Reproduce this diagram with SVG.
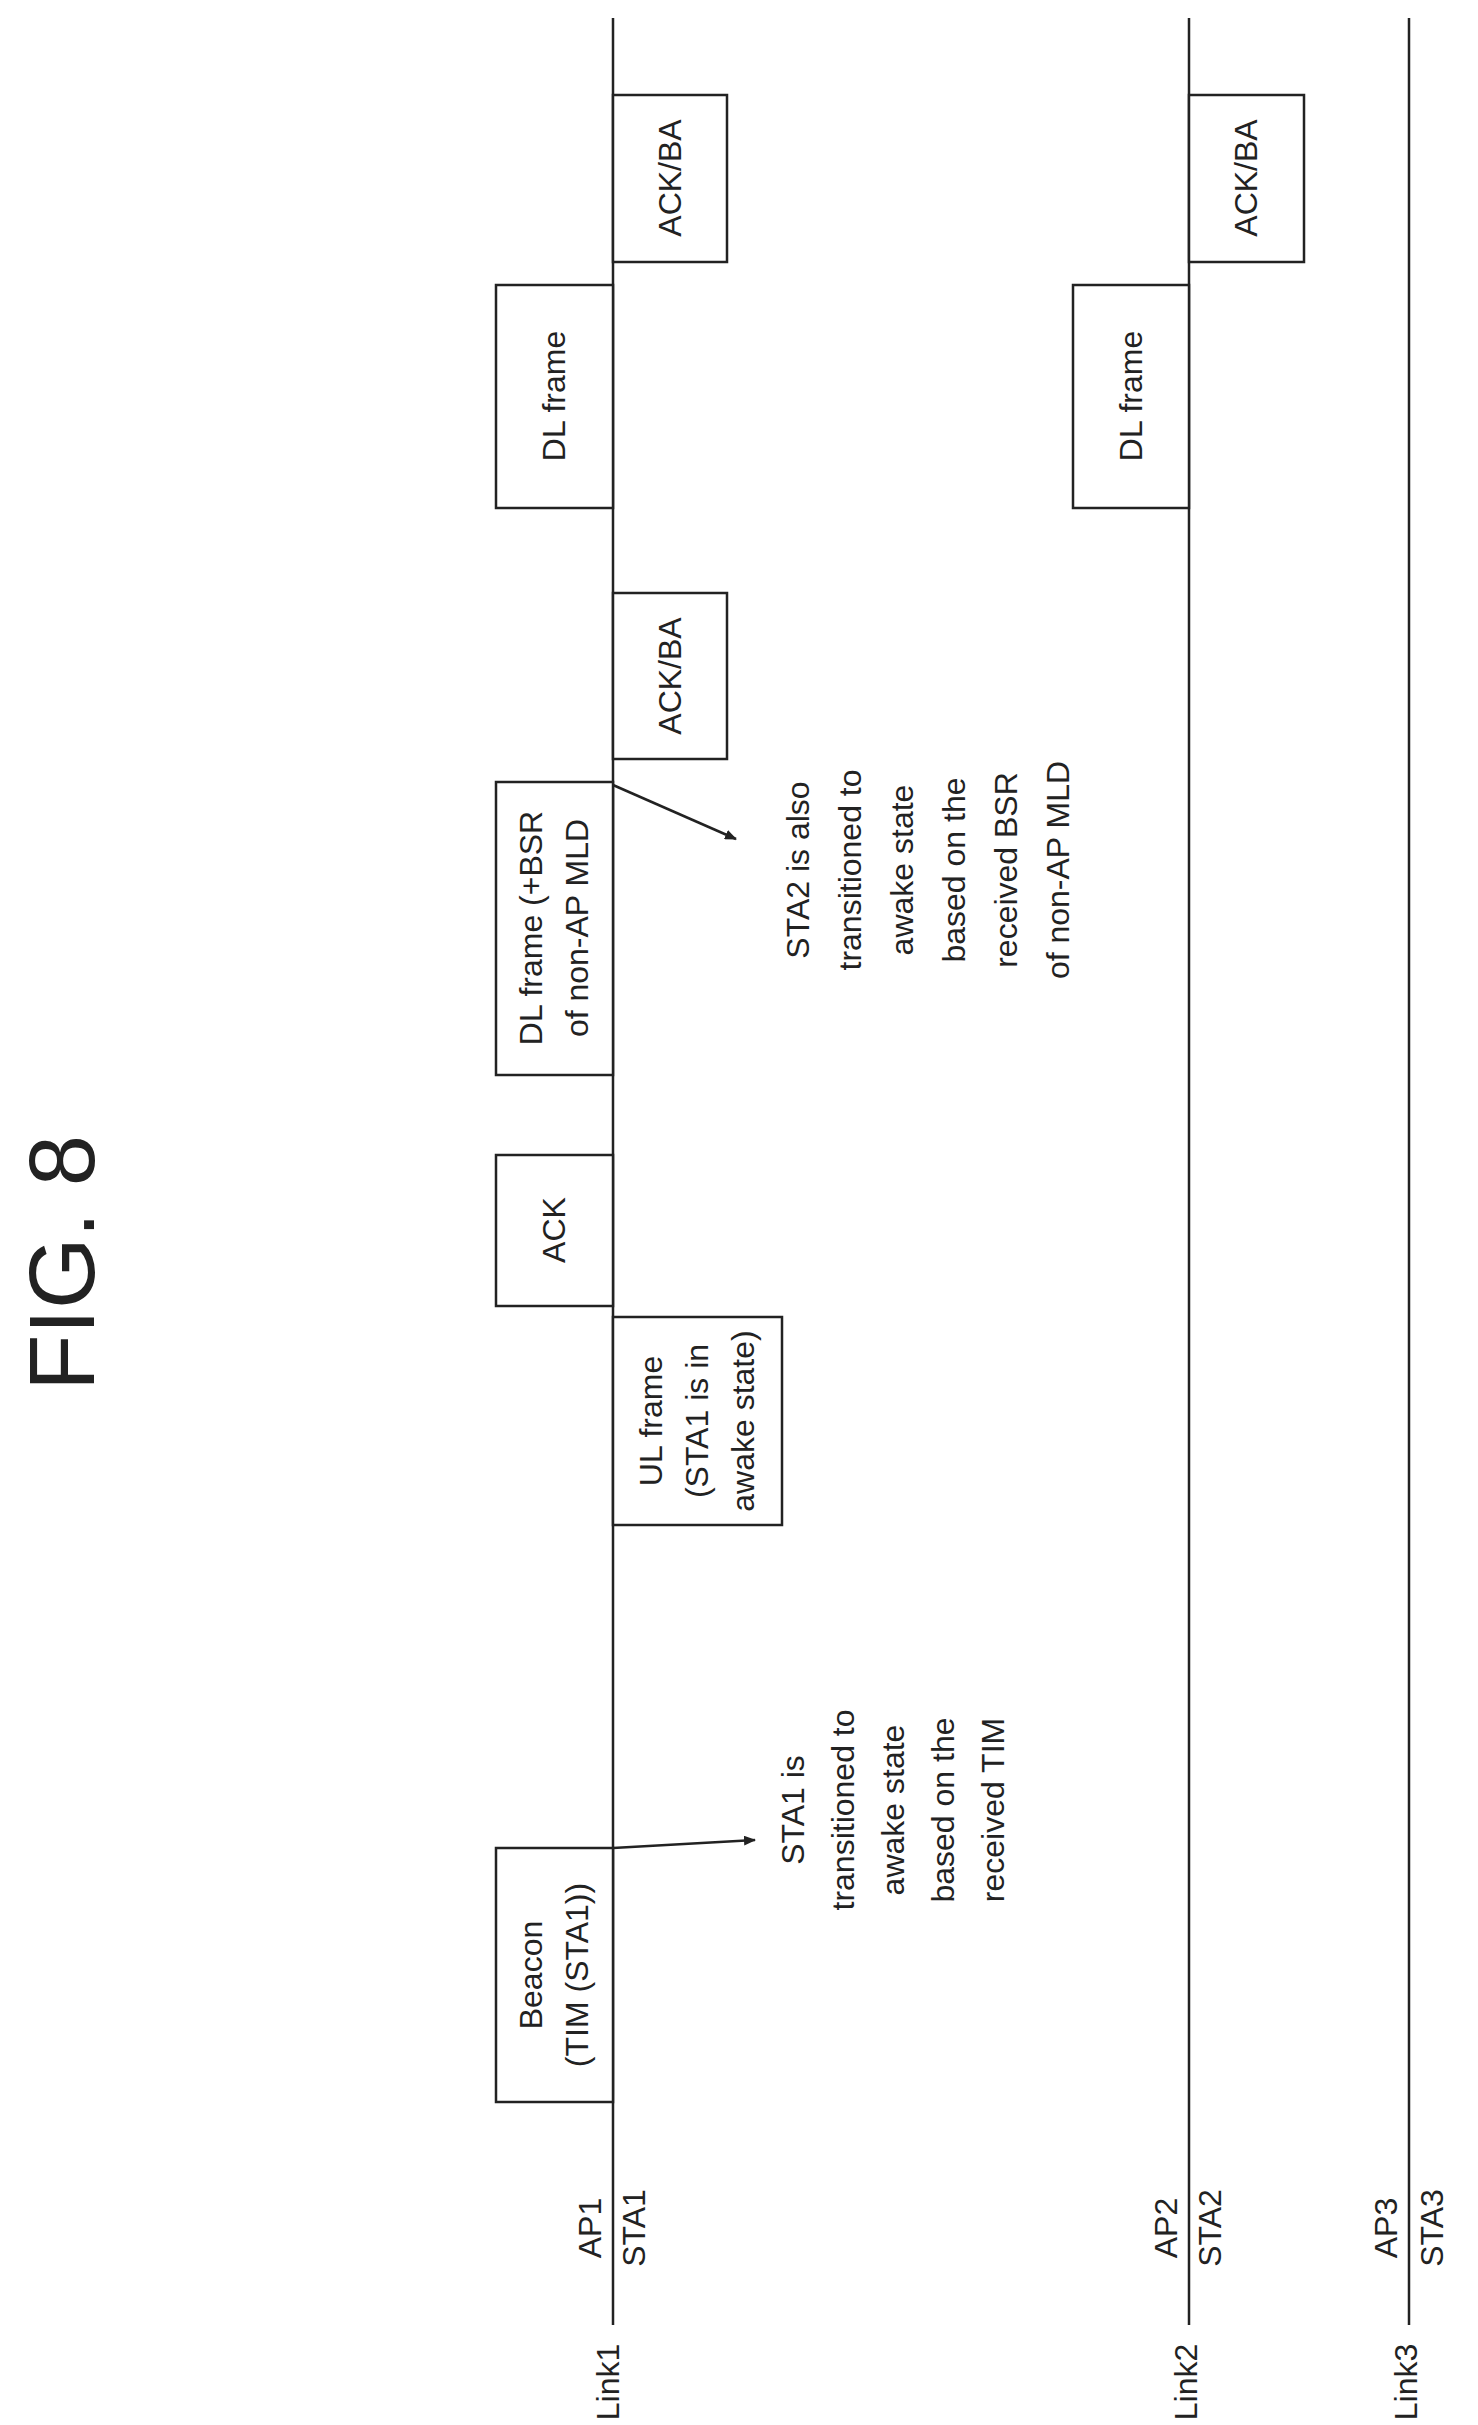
<svg xmlns="http://www.w3.org/2000/svg" width="1478" height="2425" viewBox="0 0 1478 2425">
<style>
.ln{stroke:#222;stroke-width:2.5;fill:none}
.bx{stroke:#222;stroke-width:2.5;fill:#fff}
text{font-family:"Liberation Sans",Arial,sans-serif;font-size:32px;fill:#222;text-anchor:middle;dominant-baseline:central}
</style>
<defs><marker id="ah" markerWidth="12" markerHeight="10" refX="11" refY="5" orient="auto" markerUnits="userSpaceOnUse"><path d="M0,0 L12,5 L0,10 Z" fill="#222"/></marker></defs>
<text transform="translate(62,1263) rotate(-90)" style="font-size:92px">FIG. 8</text>
<g id="connectors">
<line class="ln" x1="613" y1="18" x2="613" y2="2325"/>
<line class="ln" x1="1189" y1="18" x2="1189" y2="2325"/>
<line class="ln" x1="1409" y1="18" x2="1409" y2="2325"/>
<line class="ln" x1="613" y1="1848" x2="755" y2="1840" marker-end="url(#ah)"/>
<line class="ln" x1="613" y1="785" x2="736" y2="839" marker-end="url(#ah)"/>
</g>
<g id="beacon"><rect class="bx" x="496" y="1848" width="117" height="254"/><text transform="translate(554,1975) rotate(-90)"><tspan x="0" dy="-23">Beacon</tspan><tspan x="0" dy="46">(TIM (STA1))</tspan></text></g>
<g id="ulframe"><rect class="bx" x="613" y="1317" width="169" height="208"/><text transform="translate(697,1421) rotate(-90)"><tspan x="0" dy="-46">UL frame</tspan><tspan x="0" dy="46">(STA1 is in</tspan><tspan x="0" dy="46">awake state)</tspan></text></g>
<g id="ack"><rect class="bx" x="496" y="1155" width="117" height="151"/><text transform="translate(554,1230) rotate(-90)">ACK</text></g>
<g id="dlbsr"><rect class="bx" x="496" y="782" width="117" height="293"/><text transform="translate(554,928) rotate(-90)"><tspan x="0" dy="-23">DL frame (+BSR</tspan><tspan x="0" dy="46">of non-AP MLD</tspan></text></g>
<g id="ackba1"><rect class="bx" x="613" y="593" width="114" height="166"/><text transform="translate(670,676) rotate(-90)">ACK/BA</text></g>
<g id="dl1"><rect class="bx" x="496" y="285" width="117" height="223"/><text transform="translate(554,396) rotate(-90)">DL frame</text></g>
<g id="ackba2"><rect class="bx" x="613" y="95" width="114" height="167"/><text transform="translate(670,178) rotate(-90)">ACK/BA</text></g>
<g id="dl2"><rect class="bx" x="1073" y="285" width="116" height="223"/><text transform="translate(1131,396) rotate(-90)">DL frame</text></g>
<g id="ackba3"><rect class="bx" x="1189" y="95" width="115" height="167"/><text transform="translate(1246,178) rotate(-90)">ACK/BA</text></g>
<g id="note1"><text transform="translate(893,1810) rotate(-90)"><tspan x="0" dy="-100">STA1 is</tspan><tspan x="0" dy="50">transitioned to</tspan><tspan x="0" dy="50">awake state</tspan><tspan x="0" dy="50">based on the</tspan><tspan x="0" dy="50">received TIM</tspan></text></g>
<g id="note2"><text transform="translate(928,870) rotate(-90)"><tspan x="0" dy="-130">STA2 is also</tspan><tspan x="0" dy="52">transitioned to</tspan><tspan x="0" dy="52">awake state</tspan><tspan x="0" dy="52">based on the</tspan><tspan x="0" dy="52">received BSR</tspan><tspan x="0" dy="52">of non-AP MLD</tspan></text></g>
<g id="labels">
<text transform="translate(590,2228) rotate(-90)">AP1</text>
<text transform="translate(634,2228) rotate(-90)">STA1</text>
<text transform="translate(608,2382) rotate(-90)">Link1</text>
<text transform="translate(1166,2228) rotate(-90)">AP2</text>
<text transform="translate(1210,2228) rotate(-90)">STA2</text>
<text transform="translate(1186,2382) rotate(-90)">Link2</text>
<text transform="translate(1386,2228) rotate(-90)">AP3</text>
<text transform="translate(1432,2228) rotate(-90)">STA3</text>
<text transform="translate(1406,2382) rotate(-90)">Link3</text>
</g>
</svg>
